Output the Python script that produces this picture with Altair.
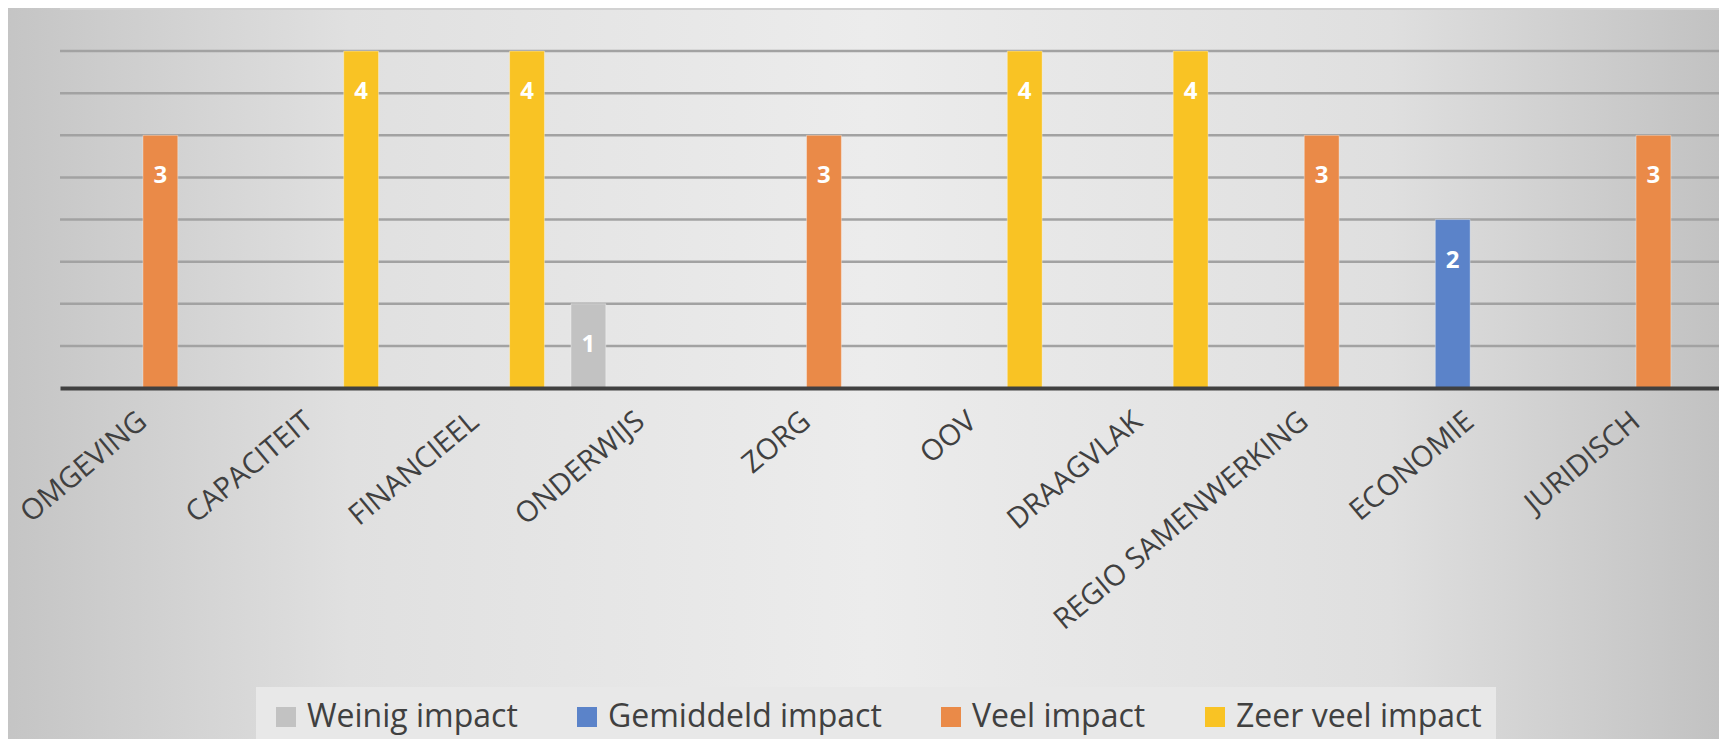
import altair as alt
import pandas as pd

CATEGORIES = ["OMGEVING", "CAPACITEIT", "FINANCIEEL", "ONDERWIJS", "ZORG", "OOV",
              "DRAAGVLAK", "REGIO SAMENWERKING", "ECONOMIE", "JURIDISCH"]
SERIES = ["Weinig impact", "Gemiddeld impact", "Veel impact", "Zeer veel impact"]
WEINIG = [None, None, None, 1, None, None, None, None, None, None]
GEMIDDELD = [None, None, None, None, None, None, None, None, 2, None]
VEEL = [3, None, None, None, 3, None, None, 3, None, 3]
ZEER_VEEL = [None, 4, 4, None, None, 4, 4, None, None, None]
COLORS = ["#c2c2c2", "#5b83c9", "#ea8a48", "#f9c324"]
GRID = [0.5, 1.0, 1.5, 2.0, 2.5, 3.0, 3.5, 4.0, 4.5]

rows = []
for s, vals in zip(SERIES, [WEINIG, GEMIDDELD, VEEL, ZEER_VEEL]):
    for c, v in zip(CATEGORIES, vals):
        if v is not None:
            rows.append({"cat": c, "series": s, "value": v})
df = pd.DataFrame(rows)

W, H = 1659, 379
FONT = "Open Sans"

bg = alt.Chart(alt.Data(values=[{"a": 1}])).mark_rect(
    fill=alt.Gradient(
        gradient="linear", x1=0, x2=1, y1=0, y2=0,
        stops=[
            alt.GradientStop(color="#c4c4c4", offset=0),
            alt.GradientStop(color="#e0e0e0", offset=0.2),
            alt.GradientStop(color="#ececec", offset=0.5),
            alt.GradientStop(color="#dfdfdf", offset=0.8),
            alt.GradientStop(color="#c0c0c0", offset=1),
        ],
    )
).encode(x=alt.value(-60), x2=alt.value(W + 20), y=alt.value(-20), y2=alt.value(H + 400))

yscale = alt.Scale(domain=[0, 4.5], nice=False)
grid_base = alt.Chart(pd.DataFrame({"g": GRID}))
grid = grid_base.transform_filter("datum.g < 4.5").mark_rule(
    color="#a2a2a2", strokeWidth=2.5
).encode(y=alt.Y("g:Q", scale=yscale, axis=None))
grid_top = grid_base.transform_filter("datum.g >= 4.5").mark_rule(
    color="#d2d2d2", strokeWidth=2
).encode(y=alt.Y("g:Q", scale=yscale, axis=None))

xscale = alt.Scale(domain=CATEGORIES, paddingInner=0.16, paddingOuter=0.08)
xenc = alt.X(
    "cat:N", sort=CATEGORIES, title=None, scale=xscale,
    axis=alt.Axis(labelAngle=-40, labelAlign="right", labelBaseline="middle",
                  labelFontSize=29, labelFont=FONT, labelColor="#404040",
                  labelPadding=29, labelLimit=800, ticks=False,
                  domainColor="#404040", domainWidth=4, zindex=1),
)
xoff = alt.XOffset("series:N", scale=alt.Scale(domain=SERIES, paddingInner=0, paddingOuter=0))

bars = alt.Chart(df).mark_bar(stroke="#ffffff", strokeOpacity=0.35, strokeWidth=1).encode(
    x=xenc,
    xOffset=xoff,
    y=alt.Y("value:Q", scale=yscale, axis=None),
    color=alt.Color(
        "series:N",
        scale=alt.Scale(domain=SERIES, range=COLORS),
        legend=alt.Legend(
            title=None, orient="none", direction="horizontal",
            legendX=196, legendY=678,
            symbolType="square", symbolSize=400, symbolStrokeWidth=0,
            labelFontSize=32, labelFont=FONT, labelColor="#404040",
            labelOffset=5, columnPadding=53, labelLimit=800,
            fillColor="#e8e8e8", padding=14,
        ),
    ),
)

labels = alt.Chart(df).mark_text(
    color="white", fontWeight="bold", fontSize=24, font=FONT, baseline="middle", dy=41
).encode(
    x=alt.X("cat:N", sort=CATEGORIES, scale=xscale),
    xOffset=xoff,
    y=alt.Y("value:Q", scale=yscale, axis=None),
    text=alt.Text("value:Q"),
)

chart = alt.layer(bg, grid_top, grid, bars, labels).properties(
    width=W, height=H,
    autosize=alt.AutoSizeParams(type="none"),
    padding={"left": 52, "top": 1, "right": 0, "bottom": 351},
).configure(background="#dcdcdc").configure_view(stroke=None)

chart.save("out.html", embed_options={"renderer": "svg", "actions": False})
